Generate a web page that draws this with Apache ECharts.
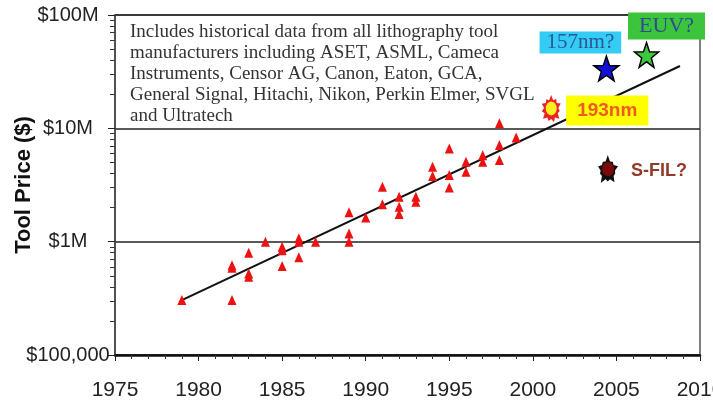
<!DOCTYPE html>
<html><head><meta charset="utf-8">
<script src="https://cdn.jsdelivr.net/npm/echarts@6/dist/echarts.min.js"></script>
<style>html,body{margin:0;padding:0;background:#fff}#c{width:713px;height:403px}</style>
</head><body><div id="c"></div>
<script>
// ---- data ----
const yTickExps = [5, 6, 7, 8];
const yTickLabels = ['$100,000', '$1M', '$10M', '$100M'];
const yMinorTicks = [2e5,3e5,4e5,5e5,6e5,7e5,8e5,9e5,2e6,3e6,4e6,5e6,6e6,7e6,8e6,9e6,2e7,3e7,4e7,5e7,6e7,7e7,8e7,9e7];
const toolYears = [1979,1982,1982,1982,1983,1983,1983,1984,1985,1985,1985,1986,1986,1986,1987,1989,1989,1989,1990,1991,1991,1992,1992,1992,1993,1993,1994,1994,1995,1995,1995,1996,1996,1997,1997,1998,1998,1998,1999];
const toolPrices = [3.05e5,3.05e5,6.2e5,5.9e5,8.0e5,5.25e5,4.9e5,1.0e6,9.0e5,8.4e5,6.1e5,1.07e6,1.0e6,7.3e5,1.0e6,1.82e6,1.18e6,1.0e6,1.63e6,3.05e6,2.14e6,2.49e6,2.03e6,1.75e6,2.49e6,2.25e6,4.58e6,3.79e6,6.65e6,3.87e6,3.01e6,5.07e6,4.14e6,5.8e6,5.07e6,1.11e7,7.13e6,5.25e6,8.3e6];
const trendYears = [1979, 2008.8];
const trendPrices = [3.05e5, 3.55e7];
const markerNames = ['193nm', '157nm?', 'EUV?', 'S-FIL?'];
const markerYears = [2001.1, 2004.4, 2006.8, 2004.5];
const markerPrices = [1.5e7, 3.37e7, 4.44e7, 4.38e6];
const noteLines = [
  'Includes historical data from all lithography tool',
  'manufacturers including ASET, ASML, Cameca',
  'Instruments, Censor AG, Canon, Eaton, GCA,',
  'General Signal, Hitachi, Nikon, Perkin Elmer, SVGL',
  'and Ultratech'
];

// ---- symbol shapes ----
const starPath = 'path://M50 0 L61.76 33.82 L97.55 34.55 L69.02 56.18 L79.39 90.45 L50 70 L20.61 90.45 L30.98 56.18 L2.45 34.55 L38.24 33.82 Z';
function burstPath(n, rO, rI, jit) {
  let d = '';
  for (let i = 0; i < 2 * n; i++) {
    const a = Math.PI * i / n - Math.PI / 2;
    const r = (i % 2) ? rI : rO * jit[(i / 2) % jit.length];
    const x = (50 + r * Math.cos(a)).toFixed(2), y = (50 + r * Math.sin(a)).toFixed(2);
    d += (i === 0 ? 'M' : 'L') + x + ' ' + y + ' ';
  }
  return 'path://' + d + 'Z';
}
const burst1 = burstPath(11, 50, 33, [1, 0.86, 0.97, 0.8, 1, 0.9, 0.84, 1, 0.88, 0.95, 0.82]);
const burst2 = burstPath(10, 50, 30, [1, 0.7, 0.9, 0.65, 0.95, 0.72, 1, 0.68, 0.85, 0.7]);

const pt = i => [[markerYears[i], markerPrices[i]]];
const lab = (i, extra) => Object.assign({ show: true, position: 'inside', formatter: () => markerNames[i] }, extra);
const SANS = '"Liberation Sans", Arial, sans-serif';
const SERIF = '"Liberation Serif", "Times New Roman", serif';

const chart = echarts.init(document.getElementById('c'), null, { renderer: 'canvas' });
chart.setOption({
  animation: false,
  backgroundColor: '#fff',
  grid: { left: 115, right: 13, top: 15, bottom: 48, containLabel: false, outerBoundsMode: 'none',
    show: true, borderColor: '#555', borderWidth: 1.5 },
  graphic: [{
    type: 'text', left: 130, top: 22, z: 10,
    style: { text: noteLines.join('\n'), fontFamily: SERIF, fontSize: 19, lineHeight: 20.8, fill: '#333' }
  }],
  xAxis: {
    type: 'value', min: 1975, max: 2010, interval: 5,
    axisLine: { lineStyle: { color: '#111', width: 2.5 } },
    axisTick: { show: true, length: 6, lineStyle: { color: '#222', width: 1 } },
    minorTick: { show: true, splitNumber: 5, length: 4, lineStyle: { color: '#333', width: 1 } },
    axisLabel: { margin: 25, fontSize: 21, color: '#222', fontFamily: SANS, formatter: v => String(v),
      showMaxLabel: true, hideOverlap: false },
    splitLine: { show: false }
  },
  yAxis: [{
    type: 'log', logBase: 10, min: 1e5, max: 1e8,
    name: 'Tool Price ($)', nameLocation: 'middle', nameGap: 80, nameRotate: 90, nameMoveOverlap: false,
    nameTextStyle: { fontSize: 22, fontWeight: 'bold', color: '#111', fontFamily: SANS },
    axisLine: { show: true, lineStyle: { color: '#444', width: 1.5 } },
    axisTick: { show: true, length: 7, lineStyle: { color: '#222', width: 1 } },
    axisLabel: {
      margin: 47, align: 'center', fontSize: 20, color: '#222', fontFamily: SANS,
      formatter: v => { const e = Math.round(Math.log10(v)); const k = yTickExps.indexOf(e); return k >= 0 ? yTickLabels[k] : ''; }
    },
    splitLine: { show: true, lineStyle: { color: '#222', width: 1.5 } }
  }, {
    type: 'log', logBase: 10, min: 1e5, max: 1e8, position: 'left', offset: 0,
    axisLine: { show: false },
    axisTick: { show: true, length: 5, customValues: yMinorTicks, lineStyle: { color: '#333', width: 1 } },
    axisLabel: { show: false },
    splitLine: { show: false }
  }],
  series: [
    { type: 'line', data: trendYears.map((y, i) => [y, trendPrices[i]]), showSymbol: false, symbol: 'none',
      lineStyle: { color: '#111', width: 2 }, z: 3 },
    { type: 'scatter', data: toolYears.map((y, i) => [y, toolPrices[i]]), symbol: 'triangle', symbolSize: [9, 10],
      itemStyle: { color: '#ee1111', opacity: 1 }, z: 4 },
    { type: 'scatter', data: pt(0), symbol: burst1, symbolSize: [19, 27], itemStyle: { color: '#ee2222', opacity: 1 }, z: 5 },
    { type: 'scatter', data: pt(0), symbol: 'circle', symbolSize: [11, 14], itemStyle: { color: '#ffee22', opacity: 1 }, z: 6,
      label: lab(0, { offset: [56, 2], fontFamily: SANS, fontWeight: 'bold', fontSize: 19,
        color: '#f05a22', backgroundColor: '#ffff00', padding: [6, 11, 5, 11] }) },
    { type: 'scatter', data: pt(1), symbol: starPath, symbolKeepAspect: true, symbolSize: [25, 26],
      itemStyle: { color: '#1010dd', borderColor: '#000', borderWidth: 1.5, opacity: 1 }, z: 6,
      label: lab(1, { offset: [-26, -26], fontFamily: SERIF, fontSize: 21, lineHeight: 22,
        color: '#2b5797', backgroundColor: '#33ccf5', padding: [0, 7, 0, 7] }) },
    { type: 'scatter', data: pt(2), symbol: starPath, symbolKeepAspect: true, symbolSize: [24, 26],
      itemStyle: { color: '#3ec63e', borderColor: '#000', borderWidth: 1.5, opacity: 1 }, z: 6,
      label: lab(2, { offset: [20, -29], fontFamily: SERIF, fontSize: 22, lineHeight: 25,
        color: '#2b4f8f', backgroundColor: '#3cc43c', padding: [1, 11, 1, 11] }) },
    { type: 'scatter', data: pt(3), symbol: burst2, symbolSize: [20, 28], itemStyle: { color: '#111', opacity: 1 }, z: 5 },
    { type: 'scatter', data: pt(3), symbol: 'circle', symbolSize: [12, 14], itemStyle: { color: '#7a0a0a', opacity: 1 }, z: 6,
      label: lab(3, { offset: [51, 2], fontFamily: SANS, fontWeight: 'bold', fontSize: 18,
        color: '#8f3b27' }) }
  ]
});
</script></body></html>
